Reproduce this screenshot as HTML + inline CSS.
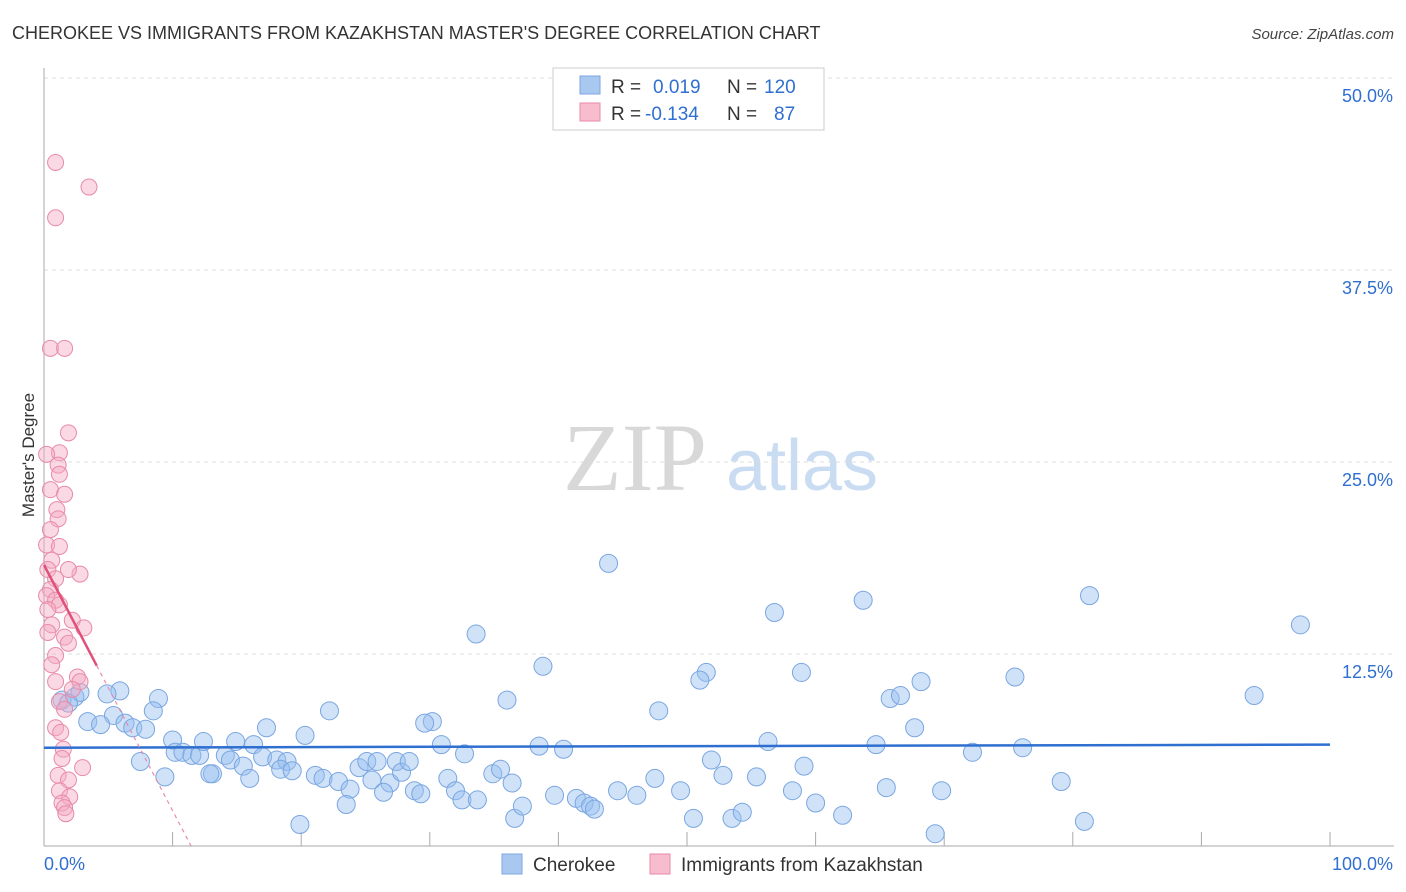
<!DOCTYPE html>
<html><head><meta charset="utf-8"><style>
body{margin:0;background:#fff;width:1406px;height:892px;overflow:hidden;font-family:"Liberation Sans",sans-serif}
svg{display:block}
</style></head><body>
<svg id="chart" width="1406" height="892" xmlns="http://www.w3.org/2000/svg">
<text x="12" y="39" font-size="18" fill="#333">CHEROKEE VS IMMIGRANTS FROM KAZAKHSTAN MASTER'S DEGREE CORRELATION CHART</text>
<text x="1394" y="39" font-size="15" fill="#444" text-anchor="end" font-style="italic">Source: ZipAtlas.com</text>
<g><text x="635" y="490" font-size="96" fill="#d8d8d8" text-anchor="middle" font-family="Liberation Serif,serif">ZIP</text><text x="802" y="490" font-size="72" fill="#c9dcf2" text-anchor="middle">atlas</text></g>
<g id="grid"></g>
<g id="axes"></g>
<g id="pts"></g>
<g id="trend"></g>
<text transform="translate(34,455) rotate(-90)" font-size="17" fill="#333" text-anchor="middle">Master's Degree</text>
<g>
<rect x="553" y="68" width="271" height="62" fill="#fff" stroke="#ccc"/>
<rect x="580" y="76" width="20" height="18" fill="#a9c8f0" stroke="#7aa6e0"/>
<rect x="580" y="103" width="20" height="18" fill="#f7bccd" stroke="#e88aa8"/>
<text x="611" y="93" font-size="19" fill="#333">R =</text><text x="653" y="93" font-size="19" fill="#2f6fd0">0.019</text>
<text x="727" y="93" font-size="19" fill="#333">N =</text><text x="764" y="93" font-size="19" fill="#2f6fd0">120</text>
<text x="611" y="120" font-size="19" fill="#333">R =</text><text x="645" y="120" font-size="19" fill="#2f6fd0">-0.134</text>
<text x="727" y="120" font-size="19" fill="#333">N =</text><text x="774" y="120" font-size="19" fill="#2f6fd0">87</text>
</g>
<g>
<rect x="502" y="854" width="20" height="20" fill="#a9c8f0" stroke="#7aa6e0"/>
<text x="533" y="871" font-size="19" fill="#333">Cherokee</text>
<rect x="650" y="854" width="20" height="20" fill="#f7bccd" stroke="#e88aa8"/>
<text x="681" y="871" font-size="19" fill="#333">Immigrants from Kazakhstan</text>
</g>
</svg>
<script>
const blueX=[43.9,81.3,97.7,56.8,63.7,33.6,38.8,51.5,51.0,58.9,68.2,75.5,65.8,66.6,94.1,36.0,47.8,22.2,67.7,30.2,29.6,17.3,8.9,5.9,4.9,2.4,2.8,1.4,1.9,8.5,5.4,3.4,4.4,6.3,6.9,7.9,10.0,10.2,10.8,11.5,12.1,12.4,14.9,16.3,20.3,14.1,14.5,15.5,17.0,18.1,18.9,18.4,19.3,13.1,12.9,9.4,7.5,16.0,21.1,21.7,22.9,23.8,23.5,24.5,25.1,25.9,25.5,26.9,26.4,27.4,27.8,28.4,28.8,29.3,30.9,32.7,31.4,32.0,32.5,33.7,34.9,35.5,36.4,36.6,37.2,38.5,40.4,39.7,41.4,42.0,42.5,42.8,44.6,46.1,47.5,49.5,50.5,51.9,52.8,53.5,54.3,55.4,56.3,58.2,59.1,60.0,62.1,64.7,65.5,69.3,69.8,72.2,76.1,79.1,80.9,19.9];
const blueY=[18.4,16.3,14.4,15.2,16.0,13.8,11.7,11.3,10.8,11.3,10.7,11.0,9.6,9.8,9.8,9.5,8.8,8.8,7.7,8.1,8.0,7.7,9.6,10.1,9.9,9.7,10.0,9.5,9.3,8.8,8.5,8.1,7.9,8.0,7.7,7.6,6.9,6.1,6.1,5.9,5.9,6.8,6.8,6.6,7.2,5.9,5.6,5.2,5.8,5.6,5.5,5.0,4.9,4.7,4.7,4.5,5.5,4.4,4.6,4.4,4.2,3.7,2.7,5.1,5.5,5.5,4.3,4.1,3.5,5.5,4.8,5.5,3.6,3.4,6.6,6.0,4.4,3.6,3.0,3.0,4.7,5.0,4.1,1.8,2.6,6.5,6.3,3.3,3.1,2.8,2.6,2.4,3.6,3.3,4.4,3.6,1.8,5.6,4.6,1.8,2.2,4.5,6.8,3.6,5.2,2.8,2.0,6.6,3.8,0.8,3.6,6.1,6.4,4.2,1.6,1.4];
const pinkX=[0.9,3.5,0.9,0.5,1.6,1.9,1.2,0.2,1.1,1.2,0.5,1.6,1.0,1.1,0.5,0.2,1.2,0.6,0.3,2.8,1.9,0.9,0.5,0.2,0.9,1.2,0.3,2.2,0.6,3.1,1.6,0.3,1.9,0.9,0.6,2.6,2.8,0.9,2.2,1.2,1.6,0.9,1.3,1.5,1.4,3.0,1.1,1.9,1.2,2.0,1.4,1.6,1.7];
const pinkY=[44.5,42.9,40.9,32.4,32.4,26.9,25.6,25.5,24.8,24.2,23.2,22.9,21.9,21.3,20.6,19.6,19.5,18.6,18.0,17.7,18.0,17.4,16.7,16.3,16.0,15.7,15.4,14.7,14.4,14.2,13.6,13.9,13.2,12.4,11.8,11.0,10.7,10.7,10.2,9.4,8.9,7.7,7.4,6.3,5.7,5.1,4.6,4.3,3.6,3.2,2.8,2.5,2.1];
const yTicks=[12.5,25.0,37.5,50.0];
const xTickVals=[0,10,20,30,40,50,60,70,80,90,100];
const blueTrend=[6.4,6.6];
const pinkTrend=[18.3,-1.6];
const NS="http://www.w3.org/2000/svg";
const sx=v=>44+v*12.86, sy=v=>846-v*15.36;
function mk(tag,attrs,parent){const e=document.createElementNS(NS,tag);for(const k in attrs)e.setAttribute(k,attrs[k]);parent.appendChild(e);return e;}
const grid=document.getElementById('grid'),axes=document.getElementById('axes'),pts=document.getElementById('pts'),tr=document.getElementById('trend');
yTicks.forEach(t=>{const l=mk('line',{x1:44,x2:1394,y1:sy(t),y2:sy(t),stroke:'#ddd','stroke-dasharray':'4,4'},grid);


const tx=mk('text',{x:1393,y:sy(t)+24,'font-size':18,fill:'#2f6fd0','text-anchor':'end'},axes);tx.textContent=t.toFixed(1)+'%';

});
mk('line',{x1:44,x2:44,y1:68,y2:846,stroke:'#aaa'},axes);
mk('line',{x1:44,x2:1394,y1:846,y2:846,stroke:'#aaa'},axes);
xTickVals.forEach(t=>{const l=mk('line',{x1:sx(t),x2:sx(t),y1:832,y2:846,stroke:'#aaa'},axes);

});
const x0=mk('text',{x:44,y:870,'font-size':18,fill:'#2f6fd0'},axes);x0.textContent='0.0%';


const x1=mk('text',{x:1393,y:870,'font-size':18,fill:'#2f6fd0','text-anchor':'end'},axes);x1.textContent='100.0%';


blueX.forEach((x,i)=>{const c=mk('circle',{cx:sx(x),cy:sy(blueY[i]),r:9,fill:'rgba(150,190,240,0.45)',stroke:'#7aa6e0','stroke-width':1},pts);

});
pinkX.forEach((x,i)=>{const c=mk('circle',{cx:sx(x),cy:sy(pinkY[i]),r:8,fill:'rgba(245,170,195,0.45)',stroke:'#e88aa8','stroke-width':1},pts);

});
const bl=mk('line',{x1:sx(0),y1:sy(blueTrend[0]),x2:sx(100),y2:sy(blueTrend[1]),stroke:'#2f6fd0','stroke-width':2.5},tr);


const pEnd=4.1, pZero=-pinkTrend[0]/pinkTrend[1];
const pl=mk('line',{x1:sx(0),y1:sy(pinkTrend[0]),x2:sx(pEnd),y2:sy(pinkTrend[0]+pinkTrend[1]*pEnd),stroke:'#e0507a','stroke-width':2.5},tr);


const pd=mk('line',{x1:sx(pEnd),y1:sy(pinkTrend[0]+pinkTrend[1]*pEnd),x2:sx(pZero),y2:sy(0),stroke:'#e88aa8','stroke-width':1.2,'stroke-dasharray':'4,4'},tr);


</script>
</body></html>
